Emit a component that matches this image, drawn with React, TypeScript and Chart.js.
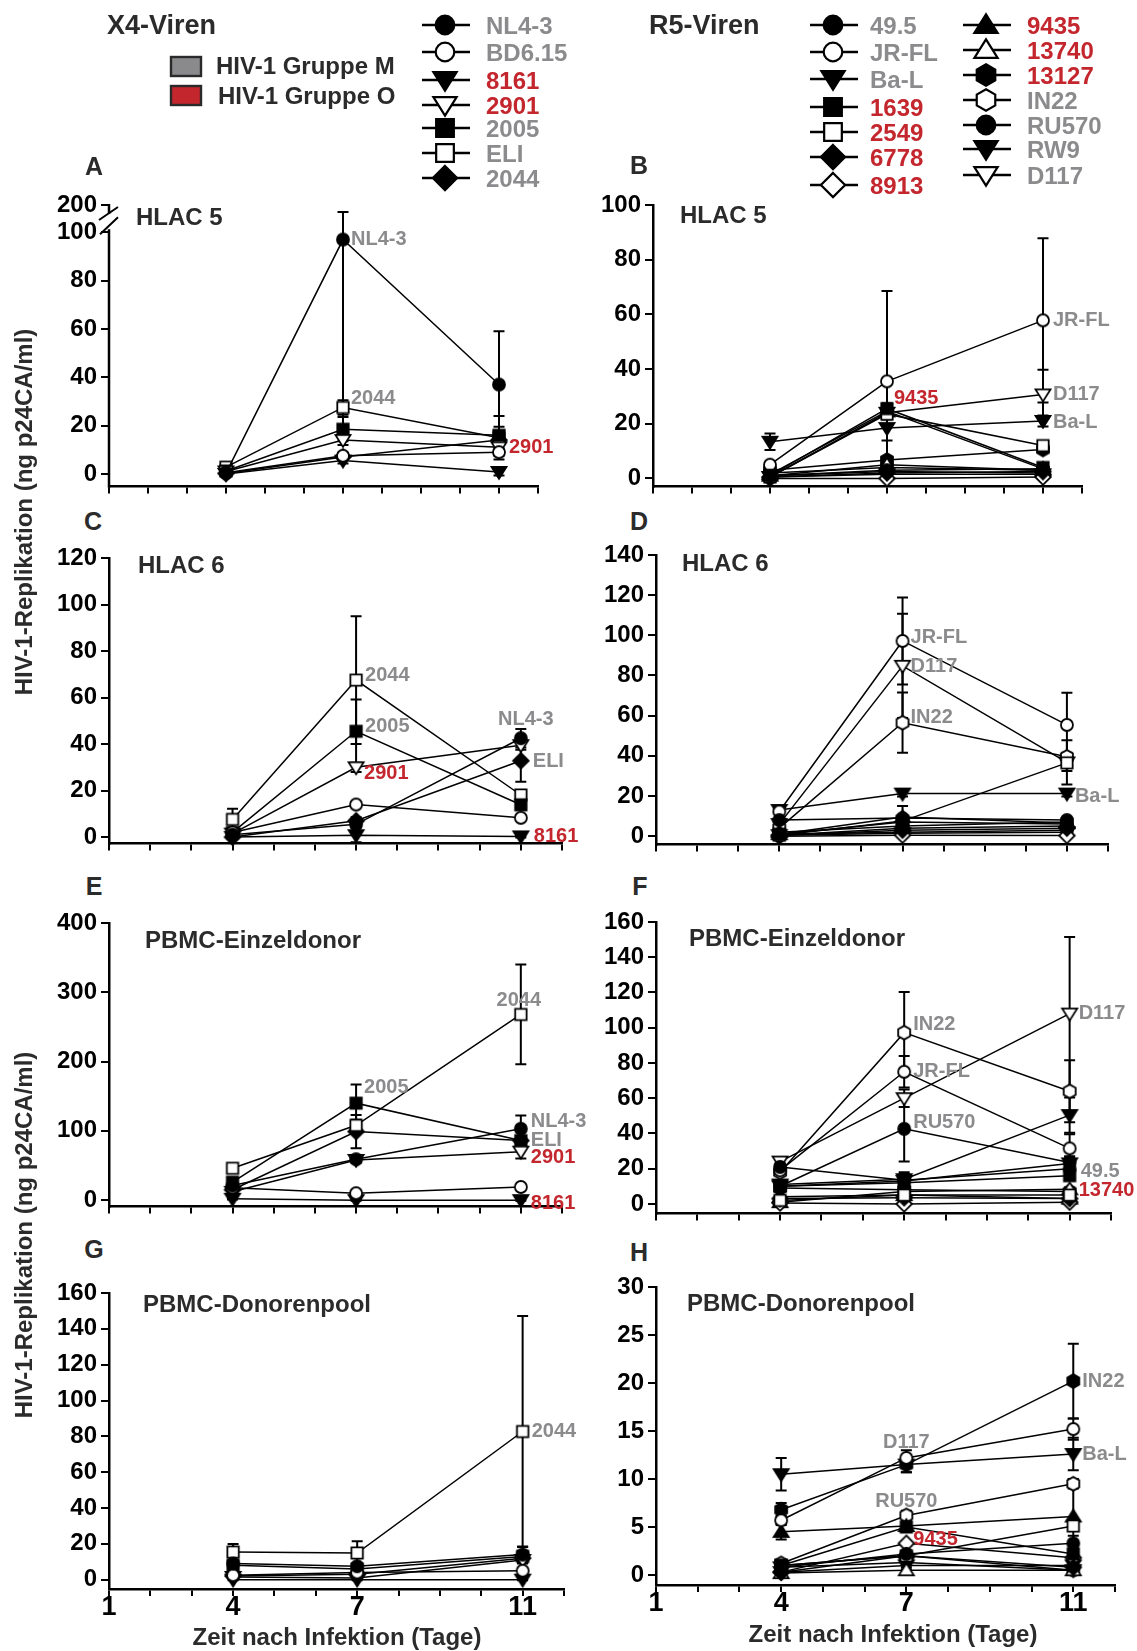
import React, { useEffect, useRef } from 'react';
import { Chart, registerables } from 'chart.js';

Chart.register(...registerables);

const FONT = '"Liberation Sans", Arial, Helvetica, sans-serif';
const INK = '#2b2b2b';
const GRAY = '#8b8b8d';
const RED = '#c4262e';

// ---------------- data ----------------
const DAYS = [4, 7, 11];
const X_TICKS = [1, 2, 3, 4, 5, 6, 7, 8, 9, 10, 11, 12];
const X_TICK_LABELS = ['1', '', '', '4', '', '', '7', '', '', '', '11', ''];

const X4_NAMES = ['NL4-3', 'BD6.15', '8161', '2901', '2005', 'ELI', '2044'];
const X4_GROUP_O = [false, false, true, true, false, false, false];
const X4_SHAPES = ['circle', 'circle', 'triDown', 'triDown', 'square', 'square', 'diamond'];
const X4_FILLED = [true, false, true, false, true, false, true];

const R5_NAMES = ['49.5', 'JR-FL', 'Ba-L', '1639', '2549', '6778', '8913', '9435', '13740', '13127', 'IN22', 'RU570', 'RW9', 'D117'];
const R5_GROUP_O = [false, false, false, true, true, true, true, true, true, true, false, false, false, false];
const R5_SHAPES = ['circle', 'circle', 'triDown', 'square', 'square', 'diamond', 'diamond', 'triUp', 'triUp', 'hexagon', 'hexagon', 'circle', 'triDown', 'triDown'];
const R5_FILLED = [true, false, true, true, false, true, false, true, false, true, false, true, true, false];

// Panel A: HLAC 5, X4
const A_TICKS = [0, 20, 40, 60, 80, 100, 200];
const A_MEANS = [
  [0.3, 97, 37], [0.5, 7.5, 9], [0, 5.5, 0.8], [1, 14, 11], [1.2, 18.5, 16], [2.8, 27.5, 15], [0.2, 7, 14],
];
const A_ERRS = [
  [0.3, 77, 22], [0.3, 1.2, 1.5], [0.3, 1.2, 1.5], [0.5, 2, 2], [0.6, 5, 3.5], [0.6, 3, 9], [0.3, 1, 2],
];
// Panel B: HLAC 5, R5
const B_TICKS = [0, 20, 40, 60, 80, 100];
const B_MEANS = [
  [1, 3, 3.5], [5, 35.5, 57.8], [13.4, 18.4, 21], [1, 25.5, 4], [0.5, 23.5, 12], [0.5, 2, 2.5], [0, 0, 0.5],
  [1.5, 24.5, 3.5], [1, 5, 3], [3, 6.7, 10.6], [2, 4, 3], [1, 2.5, 2], [0.5, 1.5, 1.5], [0.5, 24, 30.7],
];
const B_ERRS = [
  [0.3, 0.5, 0.5], [0.5, 33, 30], [3, 4.5, 2], [0.3, 2, 1], [0.3, 2, 1.5], [0.2, 0.5, 0.5], [0.2, 0.2, 0.2],
  [0.3, 2, 1], [0.3, 1, 0.5], [0.5, 1, 1], [0.3, 0.5, 0.5], [0.3, 0.5, 0.5], [0.2, 0.3, 0.3], [0.3, 2, 9],
];
// Panel C: HLAC 6, X4
const C_TICKS = [0, 20, 40, 60, 80, 100, 120];
const C_MEANS = [
  [1, 5.5, 42.5], [2, 14, 8.3], [0, 0.8, 0.3], [1.5, 30, 39.5], [2, 45.5, 13.9], [7.6, 67.5, 18.1], [0, 7, 32.8],
];
const C_ERRS = [
  [0.5, 1, 4], [0.5, 1, 1], [0.3, 3, 0.5], [0.5, 2, 2], [0.5, 13.7, 2], [4.6, 27.5, 2], [0.3, 1.5, 9],
];
// Panel D: HLAC 6, R5
const D_TICKS = [0, 20, 40, 60, 80, 100, 120, 140];
const D_MEANS = [
  [8, 9, 8], [12.3, 97.2, 55.4], [13, 21.2, 21.2], [1, 7, 6], [0.5, 7.5, 36.5], [0.5, 3, 4], [0, 0.5, 0.3],
  [2, 5, 7], [1, 9.5, 6.5], [0.5, 4, 5], [4, 56.5, 39.5], [1, 2, 3], [0.5, 1.5, 2], [6, 84.8, 36.7],
];
const D_ERRS = [
  [1, 6, 1], [1, 21.7, 16], [1, 1.5, 1.5], [0.3, 1, 1], [0.3, 2, 4], [0.2, 0.5, 0.5], [0.2, 0.2, 0.2],
  [0.5, 1, 1], [0.3, 1, 1], [0.3, 0.5, 0.5], [0.5, 15, 2], [0.3, 0.5, 0.5], [0.2, 0.3, 0.3], [1, 26, 11],
];
// Panel E: PBMC single donor, X4
const E_TICKS = [0, 100, 200, 300, 400];
const E_MEANS = [
  [21, 59, 103], [18, 10, 19], [2, 0, 0], [12, 58, 70], [26, 140, 86], [46, 108, 268], [15, 99, 86],
];
const E_ERRS = [
  [3, 4, 19], [2, 2, 2], [1, 1, 1], [2, 4, 10], [3, 27, 6], [3, 8, 72], [3, 24, 6],
];
// Panel F: PBMC single donor, R5
const F_TICKS = [0, 20, 40, 60, 80, 100, 120, 140, 160];
const F_MEANS = [
  [21, 13.5, 20], [19, 75, 31.5], [10, 13, 23], [10, 12, 16], [2, 5, 5], [3, 3.5, 3], [0.5, 0, 1],
  [4, 5, 3], [1, 7, 8.3], [9, 8, 7], [18, 97.2, 63.9], [10, 42.6, 23.5], [11, 14, 50.4], [24, 60, 108],
];
const F_ERRS = [
  [1, 3, 3], [1, 9, 8], [2, 5, 4], [1, 2, 2], [0.5, 1, 1], [0.5, 0.5, 0.5], [0.3, 0.3, 0.3],
  [0.5, 1, 1], [0.3, 1, 1], [1, 1, 1], [1, 23, 17.6], [1, 18.6, 3], [1, 3, 10], [1, 5, 43.5],
];
// Panel G: PBMC donor pool, X4
const G_TICKS = [0, 20, 40, 60, 80, 100, 120, 140, 160];
const G_MEANS = [
  [9, 7.5, 14], [2.5, 4, 5], [0, 0, 0], [1.5, 1, 11], [8, 6, 13], [15.4, 14.9, 82.7], [2, 3, 12],
];
const G_ERRS = [
  [1, 1, 4.5], [0.5, 0.5, 1], [0.3, 0.3, 0.3], [0.5, 0.5, 2], [1, 1, 3], [4.5, 6.5, 64.5], [0.5, 0.5, 2],
];
// Panel H: PBMC donor pool, R5
const H_TICKS = [0, 5, 10, 15, 20, 25, 30];
const H_MEANS = [
  [0.8, 2.2, 3.3], [5.7, 12.2, 15.2], [10.5, 11.5, 12.6], [1, 5, 2.2], [1, 2, 5.1], [0.3, 2, 0.8], [0.3, 3.3, 1.8],
  [4.5, 5.1, 6.1], [0.2, 0.5, 0.5], [6.8, 11.5, 20.2], [1.2, 6.2, 9.5], [1, 2, 0.5], [0.3, 1, 1], [0.8, 1.3, 0.5],
];
const H_ERRS = [
  [0.2, 0.3, 0.8], [0.5, 0.8, 1.1], [1.7, 0.8, 1.7], [0.2, 0.3, 0.3], [0.2, 0.3, 0.5], [0.1, 0.2, 0.2], [0.1, 0.2, 0.2],
  [0.8, 0.3, 3.9], [0.1, 0.1, 0.1], [0.7, 0.8, 3.9], [0.3, 0.5, 0.5], [0.2, 0.2, 0.2], [0.1, 0.2, 0.2], [0.2, 0.2, 0.2],
];

// point labels (data coords + pixel offset)
type Ann = { x: number; y: number; t: string; red?: boolean; center?: boolean; dx: number; dy: number };
const A_LABELS: Ann[] = [
  { x: 7, y: 97, t: 'NL4-3', dx: 8, dy: 0 },
  { x: 7, y: 27.5, t: '2044', dx: 8, dy: -9 },
  { x: 11, y: 11, t: '2901', red: true, dx: 10, dy: 0 },
];
const B_LABELS: Ann[] = [
  { x: 11, y: 57.8, t: 'JR-FL', dx: 10, dy: 0 },
  { x: 11, y: 30.7, t: 'D117', dx: 10, dy: 0 },
  { x: 11, y: 20.5, t: 'Ba-L', dx: 10, dy: 0 },
  { x: 7, y: 24.5, t: '9435', red: true, dx: 7, dy: -13 },
];
const C_LABELS: Ann[] = [
  { x: 7, y: 67.5, t: '2044', dx: 9, dy: -5 },
  { x: 7, y: 45.5, t: '2005', dx: 9, dy: -5 },
  { x: 7, y: 30, t: '2901', red: true, dx: 8, dy: 6 },
  { x: 11, y: 42.5, t: 'NL4-3', center: true, dx: 5, dy: -19 },
  { x: 11, y: 32.8, t: 'ELI', dx: 12, dy: 1 },
  { x: 11, y: 0.3, t: '8161', red: true, dx: 13, dy: 0 },
];
const D_LABELS: Ann[] = [
  { x: 7, y: 97.2, t: 'JR-FL', dx: 8, dy: -3 },
  { x: 7, y: 84.8, t: 'D117', dx: 8, dy: 1 },
  { x: 7, y: 56.5, t: 'IN22', dx: 8, dy: -5 },
  { x: 11, y: 21.2, t: 'Ba-L', dx: 8, dy: 3 },
];
const E_LABELS: Ann[] = [
  { x: 11, y: 268, t: '2044', center: true, dx: -2, dy: -14 },
  { x: 7, y: 140, t: '2005', dx: 8, dy: -16 },
  { x: 11, y: 103, t: 'NL4-3', dx: 10, dy: -7 },
  { x: 11, y: 86, t: 'ELI', dx: 10, dy: 0 },
  { x: 11, y: 70, t: '2901', red: true, dx: 10, dy: 6 },
  { x: 11, y: 0, t: '8161', red: true, dx: 10, dy: 3 },
];
const F_LABELS: Ann[] = [
  { x: 7, y: 97.2, t: 'IN22', dx: 9, dy: -8 },
  { x: 7, y: 75, t: 'JR-FL', dx: 9, dy: 0 },
  { x: 7, y: 42.6, t: 'RU570', dx: 9, dy: -6 },
  { x: 11, y: 108, t: 'D117', dx: 9, dy: 0 },
  { x: 11, y: 20, t: '49.5', dx: 11, dy: 3 },
  { x: 11, y: 8.3, t: '13740', red: true, dx: 9, dy: 1 },
];
const G_LABELS: Ann[] = [{ x: 11, y: 82.7, t: '2044', dx: 9, dy: 0 }];
const H_LABELS: Ann[] = [
  { x: 11, y: 20.2, t: 'IN22', dx: 9, dy: 0 },
  { x: 11, y: 12.6, t: 'Ba-L', dx: 9, dy: 0 },
  { x: 7, y: 12.2, t: 'D117', center: true, dx: 0, dy: -15 },
  { x: 7, y: 6.2, t: 'RU570', center: true, dx: 0, dy: -14 },
  { x: 7, y: 3.3, t: '9435', red: true, dx: 7, dy: -4 },
];

// broken axis for panel A
const BREAK_AT = 100;
const BREAK_SCALE = 0.113;
const brokenY = (v: number) => (v <= BREAK_AT ? v : BREAK_AT + (v - BREAK_AT) * BREAK_SCALE);
const plainY = (v: number) => v;

type Panel = {
  id: string; kind: 'X4' | 'R5'; means: number[][]; errs: number[][]; ticks: number[];
  yMin: number; yMax: number; area: { left: number; top: number; right: number; bottom: number };
  xLabels: boolean; labels: Ann[]; broken?: boolean;
};

const PANELS: Panel[] = [
  { id: 'A', kind: 'X4', means: A_MEANS, errs: A_ERRS, ticks: A_TICKS, yMin: -5.26, yMax: brokenY(200), area: { left: 109, top: 205, right: 538, bottom: 493 }, xLabels: false, labels: A_LABELS, broken: true },
  { id: 'B', kind: 'R5', means: B_MEANS, errs: B_ERRS, ticks: B_TICKS, yMin: -3.0, yMax: 100, area: { left: 653, top: 205, right: 1082, bottom: 493 }, xLabels: false, labels: B_LABELS },
  { id: 'C', kind: 'X4', means: C_MEANS, errs: C_ERRS, ticks: C_TICKS, yMin: -2.8, yMax: 120, area: { left: 109, top: 558, right: 562, bottom: 850 }, xLabels: false, labels: C_LABELS },
  { id: 'D', kind: 'R5', means: D_MEANS, errs: D_ERRS, ticks: D_TICKS, yMin: -4.2, yMax: 140, area: { left: 656, top: 555, right: 1108, bottom: 851 }, xLabels: false, labels: D_LABELS },
  { id: 'E', kind: 'X4', means: E_MEANS, errs: E_ERRS, ticks: E_TICKS, yMin: -9.3, yMax: 400, area: { left: 109, top: 923, right: 562, bottom: 1213 }, xLabels: false, labels: E_LABELS },
  { id: 'F', kind: 'R5', means: F_MEANS, errs: F_ERRS, ticks: F_TICKS, yMin: -5.5, yMax: 160, area: { left: 656, top: 922, right: 1111, bottom: 1220 }, xLabels: false, labels: F_LABELS },
  { id: 'G', kind: 'X4', means: G_MEANS, errs: G_ERRS, ticks: G_TICKS, yMin: -5.2, yMax: 160, area: { left: 109, top: 1293, right: 564, bottom: 1589 }, xLabels: true, labels: G_LABELS },
  { id: 'H', kind: 'R5', means: H_MEANS, errs: H_ERRS, ticks: H_TICKS, yMin: -1.04, yMax: 30, area: { left: 656, top: 1287, right: 1115, bottom: 1585 }, xLabels: true, labels: H_LABELS },
];

// ---------------- markers ----------------
function markerPath(shape: string, cx: number, cy: number, s: number): string {
  switch (shape) {
    case 'circle':
      return `M ${cx - s} ${cy} A ${s} ${s} 0 1 0 ${cx + s} ${cy} A ${s} ${s} 0 1 0 ${cx - s} ${cy} Z`;
    case 'square': {
      const h = 0.95 * s;
      return `M ${cx - h} ${cy - h} L ${cx + h} ${cy - h} L ${cx + h} ${cy + h} L ${cx - h} ${cy + h} Z`;
    }
    case 'triDown': {
      const w = 1.25 * s;
      return `M ${cx - w} ${cy - 0.85 * s} L ${cx + w} ${cy - 0.85 * s} L ${cx} ${cy + 1.15 * s} Z`;
    }
    case 'triUp': {
      const w = 1.25 * s;
      return `M ${cx - w} ${cy + 0.85 * s} L ${cx + w} ${cy + 0.85 * s} L ${cx} ${cy - 1.15 * s} Z`;
    }
    case 'diamond': {
      const d = 1.3 * s;
      return `M ${cx} ${cy - d} L ${cx + d} ${cy} L ${cx} ${cy + d} L ${cx - d} ${cy} Z`;
    }
    case 'hexagon': {
      const r = 1.15 * s;
      const pts = [0, 1, 2, 3, 4, 5].map((k) => {
        const a = (-90 + 60 * k) * Math.PI / 180;
        return `${cx + r * Math.cos(a)} ${cy + r * Math.sin(a)}`;
      });
      return `M ${pts[0]} L ${pts.slice(1).join(' L ')} Z`;
    }
  }
  return '';
}

const imgCache: Record<string, HTMLCanvasElement> = {};
function markerImage(shape: string, filled: boolean, s: number, lw: number): HTMLCanvasElement {
  const key = `${shape}-${filled}-${s}-${lw}`;
  if (imgCache[key]) return imgCache[key];
  let size = Math.ceil(3 * s + lw * 2 + 2);
  if (size % 2) size += 1;
  const c = document.createElement('canvas');
  c.width = size;
  c.height = size;
  const ctx = c.getContext('2d')!;
  const p = new Path2D(markerPath(shape, size / 2, size / 2, s));
  ctx.fillStyle = filled ? '#000' : '#fff';
  ctx.fill(p);
  ctx.lineWidth = lw;
  ctx.strokeStyle = '#000';
  ctx.stroke(p);
  imgCache[key] = c;
  return c;
}

// ---------------- chart ----------------
const Y_AXIS_W = 100;
const PAD_TOP = 20;

function geometry(p: Panel) {
  const l = p.area.left - Y_AXIS_W;
  const t = p.area.top - PAD_TOP;
  const rightEdge = p.area.left < 400 ? 612 : 1137;
  const xh = p.xLabels ? 46 : 12;
  return { l, t, w: rightEdge - l, h: p.area.bottom + xh - t, xh, padRight: rightEdge - p.area.right };
}

function makeChart(canvas: HTMLCanvasElement, p: Panel) {
  const g = geometry(p);
  const names = p.kind === 'X4' ? X4_NAMES : R5_NAMES;
  const shapes = p.kind === 'X4' ? X4_SHAPES : R5_SHAPES;
  const filled = p.kind === 'X4' ? X4_FILLED : R5_FILLED;
  const tr = p.broken ? brokenY : plainY;

  const datasets = names.map((name, i) => ({
    label: name,
    data: DAYS.map((d, j) => ({ x: d, y: tr(p.means[i][j]) })),
    borderColor: '#000',
    borderWidth: 1.5,
    pointStyle: markerImage(shapes[i], filled[i], 6, 1.8),
    pointRadius: 6,
    pointHoverRadius: 6,
    pointBorderWidth: 0,
    fill: false,
    tension: 0,
    clip: false as any,
  }));

  const deco = {
    id: 'deco' + p.id,
    beforeDatasetsDraw(chart: any) {
      const { ctx, scales } = chart;
      const xs = scales.x;
      const ys = scales.y;
      ctx.save();
      ctx.strokeStyle = '#000';
      ctx.lineWidth = 2;
      p.means.forEach((row, i) => {
        row.forEach((m, j) => {
          const e = p.errs[i][j];
          if (!e) return;
          const px = xs.getPixelForValue(DAYS[j]);
          const pt = ys.getPixelForValue(tr(m + e));
          const pb = ys.getPixelForValue(tr(m - e));
          ctx.beginPath();
          ctx.moveTo(px, pt);
          ctx.lineTo(px, pb);
          ctx.moveTo(px - 5.5, pt);
          ctx.lineTo(px + 5.5, pt);
          ctx.moveTo(px - 5.5, pb);
          ctx.lineTo(px + 5.5, pb);
          ctx.stroke();
        });
      });
      ctx.restore();
    },
    afterDatasetsDraw(chart: any) {
      const { ctx, scales } = chart;
      ctx.save();
      ctx.font = `bold 20px ${FONT}`;
      ctx.textBaseline = 'middle';
      p.labels.forEach((a) => {
        const px = scales.x.getPixelForValue(a.x) + a.dx;
        const py = scales.y.getPixelForValue(tr(a.y)) + a.dy;
        ctx.fillStyle = a.red ? RED : GRAY;
        ctx.textAlign = a.center ? 'center' : 'left';
        ctx.fillText(a.t, px, py);
      });
      ctx.restore();
    },
    afterDraw(chart: any) {
      if (!p.broken) return;
      const { ctx, scales, chartArea } = chart;
      const X = chartArea.left;
      const y100 = scales.y.getPixelForValue(BREAK_AT);
      const y200 = scales.y.getPixelForValue(brokenY(200));
      ctx.save();
      ctx.strokeStyle = '#000';
      ctx.lineWidth = 2.5;
      ctx.beginPath();
      ctx.moveTo(X, y100 - 3);
      ctx.lineTo(X, chartArea.bottom + 1.25);
      ctx.moveTo(X, y200 - 1);
      ctx.lineTo(X, y200 + 9);
      ctx.stroke();
      ctx.lineWidth = 2;
      ctx.beginPath();
      ctx.moveTo(X - 10, y200 + 15);
      ctx.lineTo(X + 9, y200 + 2);
      ctx.moveTo(X - 9, y100 + 2);
      ctx.lineTo(X + 9, y100 - 15);
      ctx.stroke();
      ctx.restore();
    },
  };

  return new Chart(canvas, {
    type: 'line',
    data: { datasets } as any,
    plugins: [deco],
    options: {
      responsive: false,
      maintainAspectRatio: false,
      animation: false,
      devicePixelRatio: 1,
      events: [],
      layout: { padding: { top: PAD_TOP, left: 0, right: g.padRight, bottom: 0 } },
      plugins: { legend: { display: false }, tooltip: { enabled: false }, title: { display: false } },
      scales: {
        x: {
          type: 'linear',
          min: 1,
          max: 12,
          bounds: 'data',
          afterBuildTicks: (s: any) => { s.ticks = X_TICKS.map((v) => ({ value: v })); },
          afterFit: (s: any) => { s.height = g.xh; },
          ticks: {
            autoSkip: false,
            maxRotation: 0,
            padding: -5,
            color: '#000',
            font: { family: FONT, size: 27, weight: 'bold' },
            callback: (_v: any, i: number) => (p.xLabels ? X_TICK_LABELS[i] : ''),
          },
          grid: { drawOnChartArea: false, drawTicks: true, tickLength: 7, color: '#000', lineWidth: 2 },
          border: { display: true, color: '#000', width: 2.5 },
        },
        y: {
          type: 'linear',
          min: p.yMin,
          max: p.yMax,
          bounds: 'data',
          afterBuildTicks: (s: any) => { s.ticks = p.ticks.map((v) => ({ value: tr(v) })); },
          afterFit: (s: any) => { s.width = Y_AXIS_W; },
          ticks: {
            padding: 4,
            color: '#000',
            font: { family: FONT, size: 24, weight: 'bold' },
            callback: (_v: any, i: number) => String(p.ticks[i]),
          },
          grid: { drawOnChartArea: false, drawTicks: true, tickLength: 8, color: '#000', lineWidth: 2 },
          border: { display: !p.broken, color: '#000', width: 2.5 },
        },
      },
    } as any,
  });
}

function PanelChart({ panel }: { panel: Panel }) {
  const ref = useRef<HTMLCanvasElement>(null);
  const g = geometry(panel);
  useEffect(() => {
    const chart = makeChart(ref.current!, panel);
    return () => chart.destroy();
  }, [panel]);
  return (
    <canvas
      ref={ref}
      width={g.w}
      height={g.h}
      style={{ position: 'absolute', left: g.l, top: g.t, width: g.w, height: g.h }}
    />
  );
}

// ---------------- legend (header) ----------------
const X4_LEG_ROWS = [25, 52, 80, 105, 128, 153, 178];
const R5_LEG_COL1_ROWS = [25, 52, 79, 107, 132, 157, 185];
const R5_LEG_COL2_ROWS = [25, 50, 75, 100, 125, 149, 175];

function LegendItem({ cx, cy, lx, shape, filled, name, red }: any) {
  return (
    <g>
      <line x1={cx - 23} y1={cy} x2={cx + 25} y2={cy} stroke="#000" strokeWidth={2.5} />
      <path d={markerPath(shape, cx, cy, 9.3)} fill={filled ? '#000' : '#fff'} stroke="#000" strokeWidth={2.2} />
      <text x={lx} y={cy} dominantBaseline="central" fontFamily={FONT} fontWeight={700} fontSize={24} fill={red ? RED : GRAY}>
        {name}
      </text>
    </g>
  );
}

function Legend() {
  return (
    <svg width={1137} height={200} style={{ position: 'absolute', left: 0, top: 0 }}>
      <rect x={171} y={57} width={30} height={19} fill="#8a8a8c" stroke="#2a2a2a" strokeWidth={2.4} />
      <rect x={171} y={86} width={30} height={19} fill={RED} stroke="#2a2a2a" strokeWidth={2.4} />
      <text x={216} y={65} dominantBaseline="central" fontFamily={FONT} fontWeight={700} fontSize={24} fill={INK}>HIV-1 Gruppe M</text>
      <text x={218} y={95} dominantBaseline="central" fontFamily={FONT} fontWeight={700} fontSize={24} fill={INK}>HIV-1 Gruppe O</text>
      {X4_NAMES.map((n, i) => (
        <LegendItem key={'x' + n} cx={445} cy={X4_LEG_ROWS[i]} lx={486} shape={X4_SHAPES[i]} filled={X4_FILLED[i]} name={n} red={X4_GROUP_O[i]} />
      ))}
      {R5_NAMES.slice(0, 7).map((n, i) => (
        <LegendItem key={'r' + n} cx={833} cy={R5_LEG_COL1_ROWS[i]} lx={870} shape={R5_SHAPES[i]} filled={R5_FILLED[i]} name={n} red={R5_GROUP_O[i]} />
      ))}
      {R5_NAMES.slice(7).map((n, i) => (
        <LegendItem key={'s' + n} cx={986} cy={R5_LEG_COL2_ROWS[i]} lx={1027} shape={R5_SHAPES[i + 7]} filled={R5_FILLED[i + 7]} name={n} red={R5_GROUP_O[i + 7]} />
      ))}
    </svg>
  );
}

// ---------------- text overlays ----------------
function Txt({ x, y, size = 24, color = INK, center = false, rotate = false, children }: any) {
  const transform = rotate
    ? 'translate(-50%,-50%) rotate(-90deg)'
    : center
    ? 'translate(-50%,-50%)'
    : 'translate(0,-50%)';
  return (
    <div
      style={{
        position: 'absolute', left: x, top: y, fontSize: size, fontWeight: 700, color,
        lineHeight: 1, whiteSpace: 'nowrap', transform, fontFamily: FONT,
      }}
    >
      {children}
    </div>
  );
}

const PANEL_LETTERS = [
  { t: 'A', x: 94, y: 166 }, { t: 'B', x: 639, y: 165 },
  { t: 'C', x: 93, y: 521 }, { t: 'D', x: 639, y: 521 },
  { t: 'E', x: 94, y: 886 }, { t: 'F', x: 640, y: 886 },
  { t: 'G', x: 94, y: 1249 }, { t: 'H', x: 639, y: 1252 },
];
const PANEL_TITLES = [
  { t: 'HLAC 5', x: 136, y: 217 }, { t: 'HLAC 5', x: 680, y: 215 },
  { t: 'HLAC 6', x: 138, y: 565 }, { t: 'HLAC 6', x: 682, y: 563 },
  { t: 'PBMC-Einzeldonor', x: 145, y: 940 }, { t: 'PBMC-Einzeldonor', x: 689, y: 938 },
  { t: 'PBMC-Donorenpool', x: 143, y: 1304 }, { t: 'PBMC-Donorenpool', x: 687, y: 1303 },
];

export default function App() {
  return (
    <div
      style={{
        position: 'absolute', left: 0, top: 0, width: 1137, height: 1651,
        background: '#fff', overflow: 'hidden', fontFamily: FONT,
      }}
    >
      {PANELS.map((p) => (
        <PanelChart key={p.id} panel={p} />
      ))}
      <Legend />
      <Txt x={107} y={25} size={27}>X4-Viren</Txt>
      <Txt x={649} y={25} size={27}>R5-Viren</Txt>
      {PANEL_LETTERS.map((l) => (
        <Txt key={l.t} x={l.x} y={l.y} size={25} center>{l.t}</Txt>
      ))}
      {PANEL_TITLES.map((l, i) => (
        <Txt key={i} x={l.x} y={l.y} size={24}>{l.t}</Txt>
      ))}
      <Txt x={24} y={512} size={24} rotate>HIV-1-Replikation (ng p24CA/ml)</Txt>
      <Txt x={24} y={1235} size={24} rotate>HIV-1-Replikation (ng p24CA/ml)</Txt>
      <Txt x={337} y={1637} size={24} center>Zeit nach Infektion (Tage)</Txt>
      <Txt x={893} y={1634} size={24} center>Zeit nach Infektion (Tage)</Txt>
    </div>
  );
}
